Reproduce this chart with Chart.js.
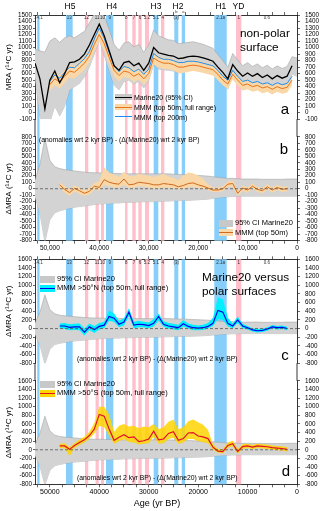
<!DOCTYPE html>
<html>
<head>
<meta charset="utf-8">
<script src="https://cdn.jsdelivr.net/npm/chart.js@4.4.0/dist/chart.umd.min.js"></script>
<style>
  body { margin: 0; background: #fff; font-family: "Liberation Sans", Arial, sans-serif; }
  #wrap { position: relative; width: 320px; height: 511px; overflow: hidden; }
  canvas { position: absolute; left: 0; }
  .t { position: absolute; white-space: nowrap; color: #000; line-height: 1; z-index: 2; }
  .s { position: absolute; z-index: 2; }
</style>
</head>
<body>
<div id="wrap">
  <canvas id="ca" width="320" height="128" style="top:0"></canvas>
  <canvas id="cb" width="320" height="128" style="top:128px"></canvas>
  <canvas id="cc" width="320" height="122" style="top:250px"></canvas>
  <canvas id="cd" width="320" height="139" style="top:372px"></canvas>
</div>
<script>
// age grid (yr BP), one value per 1000 yr
const ages = [53000, 52000, 51000, 50000, 49000, 48000, 47000, 46000, 45000, 44000,
  43000, 42000, 41000, 40000, 39000, 38000, 37000, 36000, 35000, 34000,
  33000, 32000, 31000, 30000, 29000, 28000, 27000, 26000, 25000, 24000,
  23000, 22000, 21000, 20000, 19000, 18000, 17000, 16000, 15000, 14000,
  13000, 12000, 11000, 10000, 9000, 8000, 7000, 6000, 5000, 4000,
  3000, 2000, 1000, 0];

// x axis tick positions (labels only on the 10 kyr ones)
const xTickVals = [0, 2500, 5000, 7500, 10000, 12500, 15000, 17500, 20000, 22500,
  25000, 27500, 30000, 32500, 35000, 37500, 40000, 42500, 45000, 47500,
  50000, 52500];

// panel a: Marine20 and its 95% CI
const m20 = [760, 520, 60, 500, 640, 460, 600, 770, 780, 820,
  900, 1040, 1200, 1360, 1180, 950, 720, 650, 770, 790,
  720, 760, 650, 760, 1000, 920, 900, 880, 870, 830,
  840, 860, 870, 860, 840, 820, 790, 700, 620, 520,
  740, 640, 560, 610, 560, 600, 540, 580, 520, 570,
  530, 560, 720, null];
const m20Hi = [980, 950, 930, 1100, 1150, 1080, 1150, 1180, 1150, 1200,
  1250, 1380, 1520, 1700, 1480, 1280, 1050, 960, 1070, 1090,
  1010, 1050, 930, 1040, 1270, 1180, 1150, 1120, 1110, 1060,
  1070, 1080, 1090, 1070, 1050, 1020, 990, 890, 800, 700,
  910, 810, 720, 770, 710, 750, 690, 730, 670, 720,
  680, 710, 860, 840];
const m20Lo = [540, -50, -300, -150, 100, -50, 100, 350, 400, 450,
  550, 700, 900, 1120, 880, 650, 420, 350, 480, 500,
  440, 480, 380, 490, 740, 670, 660, 650, 640, 610,
  620, 650, 660, 660, 640, 630, 600, 520, 450, 360,
  580, 480, 410, 460, 420, 450, 400, 440, 380, 430,
  390, 420, 590, 560];

// panel a: MMM top 50m (with full range) and MMM top 200m
const mmm50 = [null, null, null, 430, 520, 470, 560, 640, 620, 690,
  760, 870, 1050, 1200, 1060, 850, 650, 570, 640, 620,
  560, 600, 520, 600, 840, 790, 760, 760, 740, 700,
  700, 720, 730, 720, 700, 680, 660, 590, 500, 440,
  590, 500, 420, 440, 400, 420, 380, 400, 360, 400,
  370, 390, 500, null];
const mmm50Hi = [null, null, null, 530, 620, 570, 660, 740, 720, 790,
  860, 970, 1150, 1300, 1150, 940, 740, 660, 730, 710,
  650, 690, 610, 690, 920, 870, 840, 840, 820, 780,
  780, 800, 810, 800, 780, 760, 730, 660, 570, 510,
  650, 570, 490, 510, 460, 480, 440, 460, 420, 460,
  430, 450, 560, null];
const mmm50Lo = [null, null, null, 330, 420, 370, 460, 540, 520, 590,
  660, 770, 950, 1100, 950, 750, 560, 480, 550, 530,
  470, 510, 430, 510, 740, 700, 670, 670, 650, 610,
  610, 630, 640, 630, 610, 590, 570, 500, 420, 360,
  510, 420, 340, 360, 320, 340, 300, 320, 280, 320,
  290, 310, 420, null];
const mmm200 = [null, null, null, 480, 580, 530, 620, 700, 690, 760,
  830, 940, 1130, 1300, 1140, 920, 720, 630, 710, 690,
  630, 670, 590, 670, 910, 850, 820, 820, 800, 770,
  770, 790, 790, 780, 760, 740, 720, 650, 560, 500,
  650, 560, 480, 500, 460, 480, 440, 460, 420, 460,
  430, 450, 560, null];

// panels b-d: 95% CI of Marine20 anomaly
const ciHi = [130, 380, 780, 440, 340, 310, 295, 285, 275, 265,
  255, 250, 245, 245, 240, 240, 235, 235, 230, 230,
  230, 230, 230, 230, 230, 230, 230, 230, 225, 220,
  220, 215, 210, 205, 200, 195, 185, 175, 165, 160,
  160, 155, 150, 150, 150, 150, 145, 145, 145, 145,
  145, 150, 150, 150];
const ciLo = [-130, -380, -820, -480, -370, -340, -320, -300, -285, -275,
  -265, -255, -245, -235, -230, -230, -220, -220, -210, -210,
  -210, -200, -200, -200, -200, -195, -190, -190, -185, -185,
  -180, -180, -175, -170, -165, -160, -150, -140, -130, -125,
  -120, -120, -115, -115, -115, -115, -115, -115, -115, -115,
  -115, -115, -115, -115];

// panel b: MMM top 50m anomaly
const anom50 = [null, null, null, null, null, 60, -10, -60, 5, -30,
  -70, -40, 40, 20, 140, 100, 80, 70, 150, 60,
  70, 100, 90, 80, 60, 60, 80, 70, 60, 30,
  50, 80, 90, 60, 40, 10, -20, -20, 0, 70,
  80, -70, 10, -20, 40, -10, -30, 30, -20, 20,
  -10, 0, null, null];
const anom50Hi = [null, null, null, null, null, 100, 40, -10, 50, 20,
  -20, 10, 90, 120, 330, 250, 220, 180, 260, 200,
  190, 230, 210, 200, 180, 200, 230, 190, 170, 130,
  200, 250, 240, 200, 150, 70, 20, 20, 40, 110,
  130, -30, 50, 20, 80, 30, 10, 70, 20, 60,
  30, 40, null, null];
const anom50Lo = [null, null, null, null, null, 10, -60, -110, -40, -80,
  -110, -90, -10, -30, 60, 40, 20, 20, 60, 10,
  20, 40, 30, 20, 0, 10, 20, 10, 10, -10,
  0, 20, 30, 10, 0, -20, -50, -50, -40, 30,
  30, -110, -30, -60, 0, -50, -70, -10, -60, -20,
  -50, -40, null, null];

// panel c: MMM >50°N
const n50 = [null, null, null, null, null, 60, 60, 30, 40, 40,
  -80, 40, -20, 50, 80, 280, 240, 100, 150, 380,
  80, 100, 90, 70, 120, 280, 100, 60, 40, 20,
  110, 50, 20, 10, 20, 50, 120, 420, 380, 120,
  60, 200, 60, 20, -30, -50, -40, -10, 40, 20,
  30, 0, null, null];
const n50Hi = [null, null, null, null, null, 120, 130, 100, 110, 120,
  0, 120, 60, 130, 160, 420, 350, 180, 240, 470,
  160, 180, 160, 140, 220, 350, 170, 130, 110, 90,
  200, 120, 90, 70, 90, 130, 250, 720, 680, 250,
  120, 280, 110, 60, 10, -10, 0, 30, 80, 60,
  70, 40, null, null];
const n50Lo = [null, null, null, null, null, 0, -10, -40, -30, -40,
  -160, -30, -100, -20, 10, 180, 150, 30, 70, 280,
  10, 30, 30, 10, 50, 180, 40, 0, -20, -40,
  50, 0, -40, -40, -30, 0, 60, 220, 200, 50,
  10, 130, 10, -20, -70, -90, -80, -50, 0, -20,
  -10, -40, null, null];

// panel d: MMM >50°S
const s50 = [null, null, null, null, null, 90, 90, 10, 100, 170,
  230, 330, 480, 820, 780, 480, 220, 290, 350, 280,
  300, 190, 210, 250, 430, 230, 250, 380, 420, 220,
  260, 390, 400, 320, 300, 260, 60, -30, -40, 100,
  140, -40, 75, 90, 60, 90, 80, 70, 50, 40,
  30, 10, null, null];
const s50Hi = [null, null, null, null, null, 140, 150, 60, 160, 240,
  300, 420, 620, 1000, 1000, 820, 420, 560, 600, 540,
  560, 500, 540, 520, 600, 480, 520, 650, 700, 480,
  520, 660, 700, 640, 580, 460, 130, 20, 10, 170,
  210, 20, 130, 140, 110, 140, 130, 120, 100, 90,
  80, 60, null, null];
const s50Lo = [null, null, null, null, null, 40, 30, -150, 50, 110,
  170, 260, 380, 560, 520, 320, 140, 200, 250, 180,
  170, 120, 140, 150, 300, 140, 150, 250, 280, 140,
  170, 250, 250, 200, 180, 150, 0, -70, -80, 50,
  80, -100, 20, 40, 10, 40, 30, 20, 0, -10,
  -20, -40, null, null];

// event bands [start, end] in yr BP
const blueBars = [[52540, 52090], [46730, 45380], [38640, 37150], [28990, 28060],
  [24820, 24010], [23320, 22650], [16730, 14220]];
const pinkBars = [[42890, 42230], [40750, 40100], [39650, 39040], [34790, 34290],
  [33320, 32630], [32100, 31410], [30750, 29940], [27510, 26840], [12330, 11260]];
const barLabels = [['14.1', 52300], ['13', 46050], ['12', 42560], ['11', 40420], ['10', 39340],
  ['9', 37900], ['8', 34540], ['7', 32970], ['6', 31750], ['5.2', 30350], ['5.1', 28520],
  ['4', 27170], ['(3)', 24410], ['2.1a', 15470], ['1', 11800], ['0.6', 6070]];
const eventLabels = [['H5', 45920], ['H4', 37480], ['H3', 28520], ['H2', 24070], ['H1', 15410], ['YD', 11830]];

Chart.defaults.font.family = '"Liberation Sans", Arial, sans-serif';
Chart.defaults.color = '#000';

const pts = vals => ages.map((a, i) => ({ x: a, y: vals[i] }));
const line = (vals, color, w) => ({ data: pts(vals), borderColor: color, borderWidth: w, pointRadius: 0, fill: false, tension: 0 });
const bandTop = (vals, col, edge) => ({ data: pts(vals), backgroundColor: col, fill: '+1', pointRadius: 0,
  borderColor: edge || 'rgba(0,0,0,0)', borderWidth: edge ? 0.5 : 0 });
const bandBot = (vals, edge) => ({ data: pts(vals), fill: false, pointRadius: 0,
  borderColor: edge || 'rgba(0,0,0,0)', borderWidth: edge ? 0.5 : 0 });

const extras = {
  id: 'extras',
  beforeDatasetsDraw(chart, args, o) {
    const { ctx, chartArea: a, scales: { x } } = chart;
    const y0 = o.up ? 0 : a.top;
    const y1 = o.down ? chart.height : a.bottom;
    ctx.save();
    const draw = (list, col) => {
      ctx.fillStyle = col;
      list.forEach(([s, e]) => {
        const p0 = x.getPixelForValue(s), p1 = x.getPixelForValue(e);
        ctx.fillRect(Math.min(p0, p1), y0, Math.abs(p1 - p0), y1 - y0);
      });
    };
    draw(blueBars, 'rgb(135,206,250)');
    draw(pinkBars, 'rgb(255,192,203)');
    ctx.restore();
  },
  afterDatasetsDraw(chart, args, o) {
    if (!o.zero) return;
    const { ctx, chartArea: a, scales: { y } } = chart;
    const py = y.getPixelForValue(0);
    ctx.save();
    ctx.strokeStyle = '#555';
    ctx.lineWidth = 0.8;
    ctx.setLineDash([3, 2]);
    ctx.beginPath();
    ctx.moveTo(a.left, py);
    ctx.lineTo(a.right, py);
    ctx.stroke();
    ctx.restore();
  },
  afterDraw(chart, args, o) {
    const { ctx, chartArea: a } = chart;
    ctx.save();
    ctx.strokeStyle = '#000';
    ctx.lineWidth = 0.8;
    ctx.beginPath();
    if (o.down) {
      ctx.moveTo(a.left, a.bottom); ctx.lineTo(a.left, chart.height);
      ctx.moveTo(a.right, a.bottom); ctx.lineTo(a.right, chart.height);
    }
    if (o.up) {
      ctx.moveTo(a.left, 0); ctx.lineTo(a.left, a.top);
      ctx.moveTo(a.right, 0); ctx.lineTo(a.right, a.top);
    }
    ctx.stroke();
    ctx.restore();
  }
};

function xAxis(pos, labels, comma, h) {
  return {
    type: 'linear', position: pos, min: 0, max: 53000, reverse: true,
    afterBuildTicks: s => { s.ticks = xTickVals.map(v => ({ value: v })); },
    afterFit: s => { s.height = h; },
    border: { color: '#000', width: 0.8 },
    grid: { drawOnChartArea: false, tickLength: 3, color: '#000', lineWidth: 0.6 },
    ticks: {
      display: labels, autoSkip: false, maxRotation: 0, minRotation: 0, padding: 1,
      font: { size: comma ? 6.5 : 7 }, color: '#000',
      callback: v => v % 10000 === 0 ? (comma ? v.toLocaleString('en-US') : String(v)) : ''
    }
  };
}

function yAxis(pos, min, max, step, title) {
  const left = pos === 'left';
  return {
    type: 'linear', position: pos, min, max,
    afterFit: s => { s.width = left ? 35 : 23; },
    border: { color: '#000', width: 0.8 },
    grid: { drawOnChartArea: false, tickLength: left ? 2 : 3, color: '#000', lineWidth: 0.6 },
    ticks: { stepSize: step, autoSkip: false, padding: left ? 1 : 5, font: { size: 6.3 }, color: '#000',
      callback: v => String(v) },
    title: title ? { display: true, text: title, font: { size: 8 }, padding: { top: 4, bottom: 0 } } : { display: false }
  };
}

function panel(id, c) {
  return new Chart(document.getElementById(id), {
    type: 'line',
    data: { datasets: c.datasets },
    options: {
      responsive: false, animation: false, events: [],
      layout: { padding: c.pad },
      plugins: { legend: { display: false }, tooltip: { enabled: false }, extras: c.extras },
      scales: {
        x: xAxis(c.xPos, c.xLabels, c.comma, c.xH),
        y: yAxis('left', c.min, c.max, c.step, c.title),
        yr: yAxis('right', c.min, c.max, c.step, null)
      }
    },
    plugins: [extras]
  });
}

const GRAY = '#d3d3d3', EDGE = '#9a9a9a';

const chartA = panel('ca', {
  pad: { top: 0, bottom: 6, left: 0, right: 0 },
  xPos: 'top', xLabels: false, xH: 15,
  min: -100, max: 1500, step: 100, title: 'MRA (¹⁴C yr)',
  extras: { down: true },
  datasets: [
    line(m20, '#000', 1.3),
    line(mmm200, '#1e8cf0', 1),
    line(mmm50, '#e8731a', 1),
    bandTop(mmm50Hi, '#f9d7a6'),
    bandBot(mmm50Lo),
    bandTop(m20Hi, GRAY, EDGE),
    bandBot(m20Lo, EDGE)
  ]
});

panel('cb', {
  pad: { top: 5.3, bottom: 0, left: 0, right: 0 },
  xPos: 'bottom', xLabels: true, comma: true, xH: 15.3,
  min: -800, max: 800, step: 100, title: 'ΔMRA (¹⁴C yr)',
  extras: { up: true, zero: true },
  datasets: [
    line(anom50, '#d2691e', 1),
    bandTop(anom50Hi, '#f9d7a6'),
    bandBot(anom50Lo),
    bandTop(ciHi, GRAY, EDGE),
    bandBot(ciLo, EDGE)
  ]
});

panel('cc', {
  pad: { top: 0, bottom: 5.3, left: 0, right: 0 },
  xPos: 'top', xLabels: false, xH: 9.3,
  min: -800, max: 1600, step: 200, title: 'ΔMRA (¹⁴C yr)',
  extras: { down: true, zero: true },
  datasets: [
    line(n50, '#0000e6', 1.2),
    bandTop(n50Hi, '#00f0ff'),
    bandBot(n50Lo),
    bandTop(ciHi, GRAY, EDGE),
    bandBot(ciLo, EDGE)
  ]
});

panel('cd', {
  pad: { top: 4.7, bottom: 0, left: 0, right: 0 },
  xPos: 'bottom', xLabels: true, comma: false, xH: 26.7,
  min: -800, max: 1600, step: 200, title: 'ΔMRA (¹⁴C yr)',
  extras: { up: true, zero: true },
  datasets: [
    line(s50, '#e0102a', 1.2),
    bandTop(s50Hi, 'rgba(255,212,0,0.85)'),
    bandBot(s50Lo),
    bandTop(ciHi, GRAY, EDGE),
    bandBot(ciLo, EDGE)
  ]
});

// ---- text and legends ----
const wrap = document.getElementById('wrap');
function txt(s, x, y, size, center, extra) {
  const d = document.createElement('div');
  d.className = 't';
  d.textContent = s;
  d.style.left = x + 'px';
  d.style.top = y + 'px';
  d.style.fontSize = size + 'px';
  d.style.transform = center ? 'translate(-50%,-50%)' : 'translateY(-50%)';
  if (extra) Object.assign(d.style, extra);
  wrap.appendChild(d);
}
function sym(x, y, w, h, fillCol, lineCol, lw) {
  if (fillCol) {
    const b = document.createElement('div');
    b.className = 's';
    Object.assign(b.style, { left: x + 'px', top: (y - h / 2) + 'px', width: w + 'px', height: h + 'px', background: fillCol });
    wrap.appendChild(b);
  }
  if (lineCol) {
    const l = document.createElement('div');
    l.className = 's';
    Object.assign(l.style, { left: x + 'px', top: (y - lw / 2) + 'px', width: w + 'px', height: lw + 'px', background: lineCol });
    wrap.appendChild(l);
  }
}

const xs = chartA.scales.x;
eventLabels.forEach(([s, a]) => txt(s, xs.getPixelForValue(a), 6, 8.5, true));
txt('b', xs.getPixelForValue(24420), 11.5, 4, true, { color: '#333' });
txt('a', xs.getPixelForValue(22990), 11.5, 4, true, { color: '#333' });
barLabels.forEach(([s, a]) => {
  txt(s, xs.getPixelForValue(a), 18, 4.5, true, { color: '#333' });
  txt(s, xs.getPixelForValue(a), 262.7, 4.5, true, { color: '#333' });
});

// panel a
const na = document.createElement('div');
na.className = 't';
na.innerHTML = 'non-polar<br>surface';
Object.assign(na.style, { left: '240px', top: '27px', fontSize: '11.8px', lineHeight: '13.5px' });
wrap.appendChild(na);
txt('a', 285, 108, 15, true);
sym(115, 97.3, 17, 6, '#c8c8c8', '#000', 1.5);
sym(115, 107.3, 17, 6, '#f9d7a6', '#e8731a', 1.5);
sym(115, 116.7, 17, 6, null, '#1e8cf0', 1.2);
txt('Marine20 (95% CI)', 134, 97.3, 7);
txt('MMM (top 50m, full range)', 134, 107.3, 7);
txt('MMM (top 200m)', 134, 116.7, 7);

// panel b
const anomTxt = '(anomalies wrt 2 kyr BP) - (Δ(Marine20) wrt 2 kyr BP)';
txt(anomTxt, 39, 140, 6.8);
txt('b', 284, 147.5, 15, true);
sym(219, 223.3, 14, 7, '#c8c8c8');
sym(219, 232.7, 14, 7, '#f9d7a6', '#d2691e', 1.3);
txt('95% CI Marine20', 235, 223.3, 7.5);
txt('MMM (top 50m)', 235, 232.7, 7.5);

// panel c
const nc = document.createElement('div');
nc.className = 't';
nc.innerHTML = 'Marine20 versus<br>polar surfaces';
Object.assign(nc.style, { left: '202px', top: '270px', fontSize: '11.8px', lineHeight: '14px' });
wrap.appendChild(nc);
sym(40, 279.3, 15, 7, '#c8c8c8');
sym(40, 288.3, 15, 7, '#00f0ff', '#0000e6', 1.5);
txt('95% CI Marine20', 57, 279.3, 7.5);
txt('MMM >50°N (top 50m, full range)', 57, 288.3, 7.5);
txt(anomTxt, 77, 359.3, 6.8);
txt('c', 285, 354, 15, true);

// panel d
sym(40, 384.3, 15, 7, '#c8c8c8');
sym(40, 393.3, 15, 7, '#ffd400', '#e0102a', 1.5);
txt('95% CI Marine20', 57, 384.3, 7.5);
txt('MMM >50°S (top 50m, full range)', 57, 393.3, 7.5);
txt(anomTxt, 77, 477.7, 6.8);
txt('d', 286, 470, 15, true);
txt('Age (yr BP)', 157, 503, 9, true);
</script>
</body>
</html>
